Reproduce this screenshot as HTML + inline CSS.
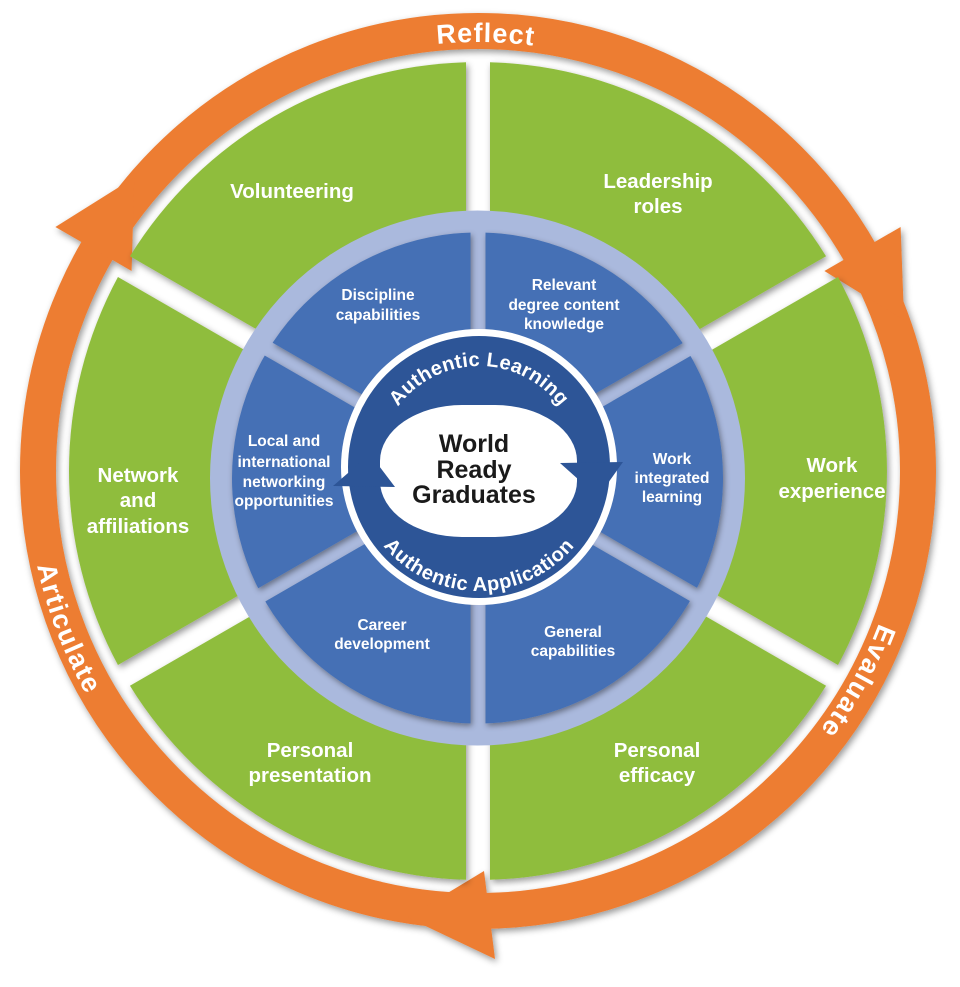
<!DOCTYPE html>
<html>
<head>
<meta charset="utf-8">
<style>
  html,body{margin:0;padding:0;background:#ffffff;}
  svg{display:block;}
  .t{font-family:"Liberation Sans", Arial, sans-serif;font-weight:bold;}
</style>
</head>
<body>
<svg width="960" height="987" viewBox="0 0 960 987" xmlns="http://www.w3.org/2000/svg">
  <defs>
    <filter id="sh" x="-10%" y="-10%" width="120%" height="120%">
      <feDropShadow dx="2" dy="3" stdDeviation="3.5" flood-color="#000" flood-opacity="0.4"/>
    </filter>
    <filter id="sh2" x="-10%" y="-10%" width="120%" height="120%">
      <feDropShadow dx="1.5" dy="2.5" stdDeviation="3" flood-color="#000" flood-opacity="0.4"/>
    </filter>
    <!-- blue wedge clips (gap centre 478,470, half gap 7.5) -->
    <clipPath id="b1"><polygon points="485.5,457 485.5,-342 1178.3,57"/></clipPath>
    <clipPath id="b2"><polygon points="493,470 1185.8,70 1185.8,870"/></clipPath>
    <clipPath id="b3"><polygon points="485.5,483 1178.3,883 485.5,1283"/></clipPath>
    <clipPath id="b4"><polygon points="470.5,483 470.5,1283 -222.3,883"/></clipPath>
    <clipPath id="b5"><polygon points="463,470 -229.8,870 -229.8,70"/></clipPath>
    <clipPath id="b6"><polygon points="470.5,457 -222.3,57 470.5,-342"/></clipPath>
    <!-- text paths -->
    <path id="pReflect" d="M110.3,250.1 A429,429 0 0 1 853.2,263.0"/>
    <path id="pEval" d="M906.9,463.5 A429,429 0 0 1 698.9,838.7"/>
    <path id="pArt" d="M32.6,400.5 A451,451 0 0 0 194.2,821.5"/>
    <path id="pLearn" d="M378,467 A101,101 0 0 1 580,467"/>
    <path id="pApp" d="M355,467 A124,124 0 0 0 603,467"/>
  </defs>

  <!-- Orange cycle ring with arrowheads -->
  <g filter="url(#sh)">
    <circle cx="478" cy="471" r="440" fill="none" stroke="#ED7D31" stroke-width="36"/>
    <polygon points="131.6,271 55.4,227 134.3,177.5" fill="#ED7D31"/>
    <polygon points="824.4,271 900.6,227 904.1,320.1" fill="#ED7D31"/>
    <polygon points="484,871 495,959 407.3,917.4" fill="#ED7D31"/>
  </g>

  <!-- Green sectors -->
  <g filter="url(#sh)" fill="#8FBD3D">
    <path d="M490,450.2 L490,62.2 A409,409 0 0 1 826.05,256.2 Z"/>
    <path d="M502,471 L838,276.97 A409,409 0 0 1 838,665.03 Z"/>
    <path d="M490,491.8 L826.05,685.8 A409,409 0 0 1 490,879.8 Z"/>
    <path d="M466,491.8 L466,879.8 A409,409 0 0 1 129.95,685.8 Z"/>
    <path d="M454,471 L117.96,665.03 A409,409 0 0 1 117.96,276.97 Z"/>
    <path d="M466,450.2 L129.95,256.2 A409,409 0 0 1 466,62.2 Z"/>
  </g>

  <!-- Light blue ring -->
  <circle cx="477.5" cy="478" r="267.5" fill="#AAB9DD"/>

  <!-- Blue sectors -->
  <g filter="url(#sh2)" fill="#4570B5">
    <circle cx="477.5" cy="478" r="245.5" clip-path="url(#b1)"/>
    <circle cx="477.5" cy="478" r="245.5" clip-path="url(#b2)"/>
    <circle cx="477.5" cy="478" r="245.5" clip-path="url(#b3)"/>
    <circle cx="477.5" cy="478" r="245.5" clip-path="url(#b4)"/>
    <circle cx="477.5" cy="478" r="245.5" clip-path="url(#b5)"/>
    <circle cx="477.5" cy="478" r="245.5" clip-path="url(#b6)"/>
  </g>

  <!-- Centre disc -->
  <circle cx="479" cy="467" r="138" fill="#ffffff"/>
  <circle cx="479" cy="467" r="131" fill="#2D5597"/>
  <rect x="380" y="405" width="197" height="132" rx="82" ry="56" fill="#ffffff"/>
  <polygon points="333,486 395,487 370,454" fill="#2D5597"/>
  <polygon points="560,463 623,462 598,497" fill="#2D5597"/>

  <!-- Ring texts -->
  <g class="t" fill="#ffffff">
    <text font-size="27" letter-spacing="1"><textPath href="#pReflect" startOffset="50%" text-anchor="middle">Reflect</textPath></text>
    <text font-size="27" letter-spacing="1.5"><textPath href="#pEval" startOffset="50%" text-anchor="middle">Evaluate</textPath></text>
    <text font-size="27" letter-spacing="1.5"><textPath href="#pArt" startOffset="50%" text-anchor="middle">Articulate</textPath></text>
    <text font-size="20" letter-spacing="0.3"><textPath href="#pLearn" startOffset="50%" text-anchor="middle">Authentic Learning</textPath></text>
    <text font-size="20" letter-spacing="0.6"><textPath href="#pApp" startOffset="50%" text-anchor="middle">Authentic Application</textPath></text>
  </g>

  <!-- Centre title -->
  <g class="t" fill="#1a1a1a" font-size="25" text-anchor="middle">
    <text x="474" y="452">World</text>
    <text x="474" y="478">Ready</text>
    <text x="474" y="503">Graduates</text>
  </g>

  <!-- Green labels -->
  <g class="t" fill="#ffffff" font-size="20.5" text-anchor="middle">
    <text x="292" y="198">Volunteering</text>
    <text x="658" y="188">Leadership</text>
    <text x="658" y="213">roles</text>
    <text x="832" y="472">Work</text>
    <text x="832" y="498">experience</text>
    <text x="138" y="482">Network</text>
    <text x="138" y="507">and</text>
    <text x="138" y="533">affiliations</text>
    <text x="310" y="757">Personal</text>
    <text x="310" y="782">presentation</text>
    <text x="657" y="757">Personal</text>
    <text x="657" y="782">efficacy</text>
  </g>

  <!-- Blue labels -->
  <g class="t" fill="#ffffff" font-size="15.5" text-anchor="middle">
    <text x="378" y="300">Discipline</text>
    <text x="378" y="320">capabilities</text>
    <text x="564" y="290">Relevant</text>
    <text x="564" y="310">degree content</text>
    <text x="564" y="329">knowledge</text>
    <text x="284" y="446">Local and</text>
    <text x="284" y="467">international</text>
    <text x="284" y="487">networking</text>
    <text x="284" y="506">opportunities</text>
    <text x="672" y="464">Work</text>
    <text x="672" y="483">integrated</text>
    <text x="672" y="502">learning</text>
    <text x="382" y="630">Career</text>
    <text x="382" y="649">development</text>
    <text x="573" y="637">General</text>
    <text x="573" y="656">capabilities</text>
  </g>
</svg>
</body>
</html>
